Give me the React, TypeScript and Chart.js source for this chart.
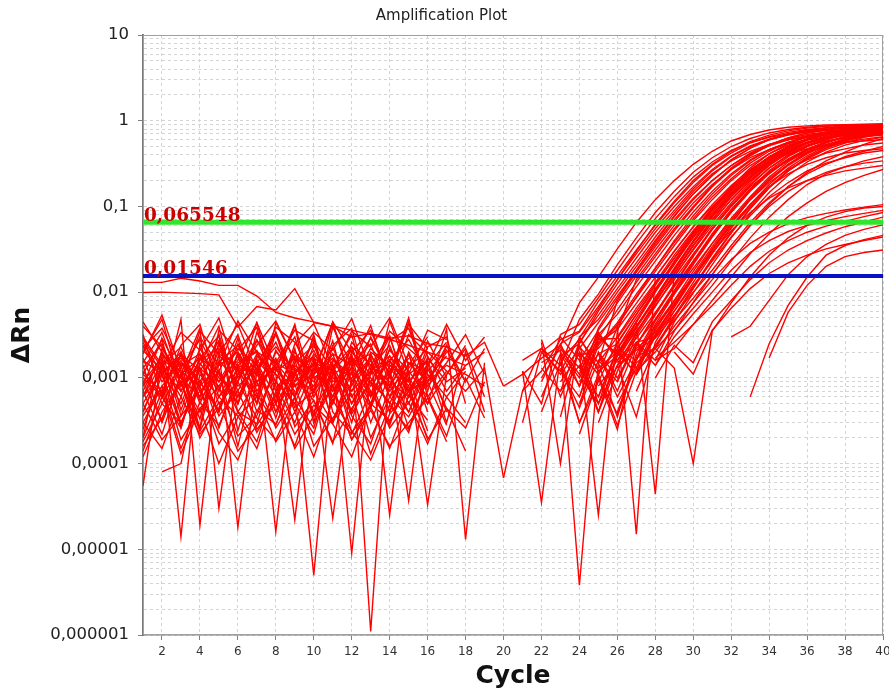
import React, { useEffect, useRef } from "react";
import { Chart, registerables } from "chart.js";

Chart.register(...registerables);

// ---------- axes ----------
const cycles = [1, 2, 3, 4, 5, 6, 7, 8, 9, 10, 11, 12, 13, 14, 15, 16, 17, 18, 19, 20,
  21, 22, 23, 24, 25, 26, 27, 28, 29, 30, 31, 32, 33, 34, 35, 36, 37, 38, 39, 40];
const xTickValues = [2, 4, 6, 8, 10, 12, 14, 16, 18, 20, 22, 24, 26, 28, 30, 32, 34, 36, 38, 40];
const yMajorValues = [1e-6, 1e-5, 1e-4, 1e-3, 1e-2, 1e-1, 1, 10];
const yTickLabels = ["0,000001", "0,00001", "0,0001", "0,001", "0,01", "0,1", "1", "10"];

// ---------- thresholds ----------
const thresholdValues = [0.065548, 0.01546];
const thresholdLabels = ["0,065548", "0,01546"];
const thresholdColors = ["#2ee62e", "#0a10c4"];
const thresholdWidths = [5, 4];

// ---------- baseline noise traces (start at cycle 1) ----------
const noiseTraces: (number | null)[][] = [
  [1.3e-2, 1.3e-2, 1.45e-2, 1.35e-2, 1.2e-2, 1.2e-2, 9e-3, 5.8e-3, 5e-3, 4.5e-3, 4e-3, 3.6e-3, 3.2e-3, 2.8e-3, 2.4e-3, 2e-3, 1.7e-3, 1.4e-3],
  [9.9e-3, 1e-2, 9.8e-3, 9.6e-3, 9.3e-3, 3.9e-3, 6.8e-3, 6.2e-3, 1.1e-2, 4.4e-3, 4e-3, 3e-3, 3.3e-3, 2.9e-3, 3.1e-3, 2.5e-3, 2.3e-3, 1.8e-3, 2.6e-3, 8e-4],
  [1.9e-3, 5.4e-3, 1.2e-3, 8e-4, 3.2e-3, 6e-4, 1.5e-3, 4e-4, 1.1e-3, 2.1e-3, 7e-4, 1.3e-3, 5e-4, 2.2e-3, 9e-4, 1.6e-3],
  [5.5e-5, 1.8e-3, 1.4e-5, 2.5e-3, 6e-4, 1.1e-3, 2.8e-3, 9e-4, 5e-4, 1.7e-3, 1.2e-3, 4e-4, 1.9e-3, 7e-4, 1.4e-3],
  [1.2e-3, 6e-4, 4.8e-3, 1.9e-5, 1.6e-3, 9e-4, 4.4e-3, 1.3e-3, 6e-4, 2.4e-3, 8e-4, 1.8e-3, 3e-4, 1.1e-3, 4.5e-3, 6e-4, 1.2e-3],
  [8e-4, 2.9e-3, 1.1e-3, 3.8e-3, 3e-5, 1.4e-3, 6e-4, 3.4e-3, 1e-3, 7e-4, 4.4e-3, 9e-4, 1.6e-3, 4e-4, 1.3e-3, 2.2e-3],
  [2.4e-3, 9e-4, 1.6e-3, 6e-4, 2.1e-3, 1.8e-5, 1.2e-3, 2.6e-3, 8e-4, 1.5e-3, 5e-4, 2e-3, 1.1e-3, 3e-3, 7e-4, 1.7e-3, 9e-4, 1.3e-3],
  [4e-4, 1.3e-3, 7e-4, 1.9e-3, 1.1e-3, 5e-4, 1.7e-3, 1.6e-5, 1.4e-3, 9e-4, 2.3e-3, 6e-4, 1.2e-3, 8e-4, 1.9e-3, 4e-4],
  [1.5e-3, 3.4e-3, 8e-4, 1.2e-3, 2.7e-3, 7e-4, 1.9e-3, 1.1e-3, 2.2e-5, 1.6e-3, 3e-4, 1.4e-3, 2.5e-3, 6e-4, 1.1e-3],
  [6e-4, 1.1e-3, 2e-3, 5e-4, 1.5e-3, 2.4e-3, 9e-4, 1.3e-3, 7e-4, 5e-6, 1.2e-3, 2.1e-3, 8e-4, 1.6e-3, 5e-4, 1.4e-3, 2.6e-3],
  [3e-3, 1.4e-3, 6e-4, 2.2e-3, 9e-4, 1.6e-3, 4.4e-3, 7e-4, 1.8e-3, 1.1e-3, 2.3e-5, 1e-3, 1.7e-3, 4e-4, 2e-3, 8e-4, 1.5e-3, 3.2e-3, 1.1e-3],
  [1.1e-3, 7e-4, 1.9e-3, 1.2e-3, 4e-4, 2e-3, 8e-4, 1.4e-3, 3e-3, 6e-4, 1.5e-3, 9e-6, 1.3e-3, 2.4e-3, 7e-4, 1.2e-3],
  [2e-4, 2.2e-3, 1e-3, 6e-4, 1.8e-3, 1.3e-3, 5e-4, 2.1e-3, 9e-4, 1.4e-3, 6e-4, 1.9e-3, 1.1e-6, 1.6e-3, 8e-4, 2.7e-3, 1e-3],
  [9e-4, 1.7e-3, 2.6e-4, 1.5e-3, 7e-4, 2.5e-3, 1.1e-3, 3.4e-3, 6e-4, 1.9e-3, 1e-3, 7e-4, 1.8e-3, 2.5e-5, 1.5e-3, 9e-4, 2e-3],
  [1.7e-3, 5e-4, 1.3e-3, 2.8e-3, 1e-3, 6e-4, 1.6e-3, 9e-4, 4.1e-3, 7e-4, 1.3e-3, 2.3e-3, 6e-4, 1.2e-3, 3.7e-5, 1.8e-3, 7e-4, 1.4e-3, 2e-3],
  [7e-4, 1.9e-3, 1e-3, 4e-4, 1.2e-3, 3.2e-3, 7e-4, 1.5e-3, 1.1e-3, 2.6e-3, 5e-4, 1.6e-3, 9e-4, 2.1e-3, 1.2e-3, 3.3e-5, 1.1e-3, 2.4e-3],
  [1.3e-3, 2.5e-3, 7e-4, 1.6e-3, 2.2e-3, 8e-4, 1.3e-3, 3.4e-4, 1.7e-3, 1.2e-3, 4.4e-3, 8e-4, 3e-3, 1.1e-3, 5e-3, 7e-4, 3.7e-3, 1.3e-5, 1.5e-3],
  [3e-4, 8e-4, 1.5e-3, 9e-4, 2.4e-3, 1.2e-3, 6e-4, 2e-3, 1.3e-3, 8e-4, 1.9e-3, 5e-4, 1.4e-3, 9e-4, 6e-4, 2e-3, 1.2e-3, 7e-4, 1.3e-3, 6.8e-5],
  [2.1e-3, 1.2e-3, 5e-4, 1.7e-3, 9e-4, 2.2e-3, 1.4e-3, 4e-4, 1.5e-3, 2.4e-3, 9e-4, 1.3e-3, 2.9e-3, 1.1e-3, 4e-4, 1.2e-3, 2.1e-3, 9e-4],
  [null, 8e-5, 1e-4, 1.1e-3, 6e-4, 1.5e-3, 2e-3, 7e-4, 1.2e-3, 1.7e-3, 6e-4, 2.3e-3, 1.4e-3, 8e-4, 1.7e-3],
  [4e-4, 1.4e-3, 2.3e-3, 7e-4, 1.2e-3, 5e-4, 1.8e-3, 1.1e-3, 6e-4, 1.5e-3, 1.2e-3, 3e-4, 2e-3, 1.4e-3, 9e-4, 1.6e-3, 4e-4],
  [1e-3, 6e-4, 1.4e-3, 1.9e-3, 5e-4, 9e-4, 2.7e-3, 1.5e-3, 8e-4, 1.1e-3, 1.9e-3, 1.4e-3, 6e-4, 1.8e-3, 1e-3, 5e-4, 1.1e-3, 2.2e-3, 6e-4],
  [2.6e-3, 1.1e-3, 1.8e-3, 8e-4, 1.4e-3, 2e-3, 9e-4, 1.7e-3, 4e-4, 1.3e-3, 7e-4, 1.7e-3, 1e-3, 5e-4, 1.5e-3, 1.2e-3],
  [6e-4, 2e-3, 9e-4, 1.3e-3, 2.6e-4, 1.1e-3, 1.5e-3, 6e-4, 2e-3, 1e-3, 1.4e-3, 5e-4, 1.1e-3, 1.6e-3, 2.8e-3, 1.1e-3, 6e-4, 1.2e-3],
  [1.4e-3, 3e-4, 1.1e-3, 1.7e-3, 1.2e-3, 1.6e-4, 1.3e-3, 2.3e-3, 1.2e-3, 4e-4, 1.1e-3, 1.5e-3, 1.9e-3, 6e-4, 1.9e-3, 5e-4, 2.4e-3, 9e-4, 2.2e-3],
  [8e-4, 1.6e-3, 1.2e-3, 2.5e-4, 1.9e-3, 1.4e-3, 1.1e-3, 5e-4, 1.2e-3, 1.8e-3, 3e-4, 9e-4, 2.2e-3, 1.3e-3, 7e-4, 1e-3, 1.8e-3],
  [1.6e-3, 1.1e-3, 2.8e-4, 1.3e-3, 8e-4, 1.8e-3, 4e-4, 1.2e-3, 1.7e-3, 7e-4, 1.6e-3, 1.1e-3, 4.5e-4, 1.4e-3, 1.1e-3, 1.6e-3],
  [5e-4, 1.2e-3, 1.7e-3, 9e-4, 4e-4, 1.4e-3, 2.1e-3, 8e-4, 3e-4, 1.1e-3, 1.7e-3, 7e-4, 1.2e-3, 1.8e-3, 7e-4, 9e-4, 1.4e-3, 1.1e-3, 8e-4],
  [3e-4, 1.5e-4, 6e-4, 2.2e-4, 4.5e-4, 1.3e-3, 2.5e-4, 5e-4, 1.6e-4, 7e-4, 3e-4, 1.2e-3, 2e-4, 6e-4, 3.5e-4, 9e-4, 2.8e-4],
  [1.8e-4, 5e-4, 3e-4, 8e-4, 1.7e-4, 4e-4, 9e-4, 2.6e-4, 6e-4, 3.2e-3, 4e-4, 2.2e-4, 7e-4, 3e-4, 1e-3, 2.4e-4],
  [4.5e-3, 2e-3, 3.6e-4, 1.4e-3, 4e-3, 5e-4, 3.4e-3, 1.2e-3, 4.2e-3, 3e-4, 2.4e-3, 3.8e-3, 6e-4, 4.6e-3, 1.1e-3, 3.6e-3, 2.8e-3],
  [2.5e-4, 1.1e-3, 1.9e-4, 4.4e-4, 8e-4, 2.1e-4, 3.6e-4, 1.4e-3, 2.7e-4, 5.5e-4, 1.8e-4, 4.4e-4, 9e-4, 2.6e-4, 5.2e-4, 1.7e-4, 6e-4, 3e-4],
  [3.2e-3, 6e-4, 2.4e-3, 4.2e-3, 7e-4, 2.9e-3, 5e-4, 4.4e-3, 1.6e-3, 3.6e-4, 3.9e-3, 1.4e-3, 4.1e-3, 8e-4, 3.2e-3, 1.9e-3],
  [7e-4, 2.2e-4, 1.1e-3, 3.3e-4, 2.6e-3, 4e-4, 1.8e-4, 9e-4, 5e-4, 2.2e-4, 1.3e-3, 3.6e-4, 1.7e-4, 8e-4, 4e-4, 1.5e-3, 3e-4, 2e-3, 4e-4],
  [1.4e-4, 6e-4, 2.6e-4, 1.3e-3, 3.6e-4, 7e-4, 2.3e-4, 5.6e-4, 2.2e-3, 3e-4, 8e-4, 1.9e-4, 5e-4, 1.2e-3, 2.6e-4, 6.6e-4],
  [2.2e-3, 3.8e-3, 1.4e-3, 2.6e-4, 3.6e-3, 2.1e-3, 3.9e-3, 5e-4, 2.5e-3, 4.3e-3, 1.3e-3, 3.2e-3, 4.5e-4, 2.7e-3, 3.8e-3, 9e-4, 2.4e-3],
  [5e-4, 1.9e-4, 3.6e-4, 7e-4, 2.3e-4, 1.1e-4, 4.2e-4, 2.9e-4, 8.5e-4, 1.6e-4, 3.4e-4, 6.5e-4, 1.3e-4, 4.8e-4, 2.5e-4, 1.1e-3],
  [1.1e-3, 2.8e-3, 4.2e-4, 1.7e-3, 3.1e-3, 2.4e-4, 1.5e-3, 3.2e-3, 9e-4, 2.9e-3, 5.2e-4, 2.6e-3, 1.4e-3, 3.1e-3, 6e-4, 2.3e-3, 3e-3, 5e-4],
  [3.6e-4, 8e-4, 1.5e-4, 5.2e-4, 2.8e-4, 9e-4, 3.4e-4, 1.9e-4, 5.8e-4, 2.6e-4, 1.4e-3, 2.3e-4, 4.6e-4, 1.5e-4, 6.2e-4, 3.2e-4],
  [2.8e-3, 1.3e-3, 3.4e-3, 2.1e-3, 5e-3, 1e-3, 2.4e-3, 4.6e-3, 1.6e-3, 3.4e-3, 2.1e-3, 4.9e-3, 1.2e-3, 3.5e-3, 2.2e-3, 1.4e-3, 4.2e-3, 1.6e-3, 3e-3],
  [9e-4, 3.2e-4, 2e-3, 5.5e-4, 1.2e-3, 4e-4, 2.9e-4, 1.6e-3, 4.5e-4, 7e-4, 2.7e-3, 3.8e-4, 9e-4, 5.2e-4, 2.3e-4, 1.3e-3, 4.4e-4, 1.4e-4],
  [1.2e-4, 4e-4, 9e-4, 2.4e-4, 6e-4, 3.6e-4, 1.5e-4, 7e-4, 2.2e-4, 4.8e-4, 2.9e-4, 1.2e-4, 5e-4, 3.2e-4, 8e-4, 1.9e-4, 4.4e-4, 2.6e-4, 9e-4],
  [2e-3, 4.8e-3, 8e-4, 3.5e-3, 1.9e-3, 4.2e-3, 1.2e-3, 3.9e-3, 2.6e-3, 1.1e-3, 4.5e-3, 2e-3, 3.6e-3, 1e-3, 4.2e-3, 2.2e-3],
  [6e-4, 1.5e-3, 3e-4, 9e-4, 4.2e-4, 1.9e-3, 6.5e-4, 2.8e-4, 1.1e-3, 5.4e-4, 1.7e-4, 1.8e-3, 7e-4, 2.8e-4, 1.2e-3, 6e-4, 2.1e-4, 1e-3, 3.4e-4],
  [4e-3, 2.3e-3, 1e-3, 3e-3, 1.4e-3, 4.6e-3, 2e-3, 1.5e-3, 3.6e-3, 2.7e-3, 1.2e-3, 3.5e-3, 2.3e-3, 5e-3, 1.4e-3, 3e-3],
  [2e-4, 7e-4, 1.3e-4, 4.4e-4, 1e-4, 3.5e-4, 6e-4, 1.8e-4, 4e-4, 1.2e-4, 5.5e-4, 2.4e-4, 1.1e-4, 3.8e-4, 7e-4, 2e-4],
  [1.6e-4, 3.4e-4, 9e-4, 2e-4, 5.2e-4, 1.4e-4, 2.8e-4, 6.4e-4, 1.5e-4, 3.6e-4, 8e-4, 1.9e-4, 4.2e-4, 1.6e-4, 3e-4, 5.8e-4, 1.8e-4],
];

// ---------- amplification traces ----------
const ampStartCycles = [
  20, 21, 20, 21, 22, 22, 23, 22, 23, 24,
  23, 24, 24, 24, 25, 25, 25, 26, 26, 27,
  22, 21, 23, 24, 24, 22, 24, 24, 22, 21,
  26, 28, 26,
  27, 27, 28, 28, 29, 34, 33, 32, 28,
  22, 22, 23, 23, 24, 24, 23, 25, 24, 25,
  22, 26, 23, 21, 25, 26, 24, 27,
  24, 25, 23, 26, 24, 25, 27, 28, 23, 26,
];
const ampTraces: number[][] = [
  [8e-4, 1.1e-3, 1.7e-3, 2.4e-3, 7.5e-3, 1.5e-2, 3.2e-2, 6.5e-2, 0.12, 0.2, 0.31, 0.44, 0.58, 0.69, 0.78, 0.84, 0.87, 0.89, 0.9, 0.91, 0.92],
  [7e-4, 2.2e-3, 1.4e-3, 4.8e-3, 9.5e-3, 2.1e-2, 4.3e-2, 8.5e-2, 0.15, 0.25, 0.37, 0.5, 0.62, 0.72, 0.79, 0.84, 0.87, 0.88, 0.89, 0.9],
  [6.8e-5, 7e-4, 1.2e-3, 2.8e-3, 3.5e-3, 7.8e-3, 1.55e-2, 3.1e-2, 6e-2, 0.11, 0.19, 0.3, 0.42, 0.55, 0.65, 0.73, 0.79, 0.83, 0.85, 0.87, 0.88],
  [1.2e-3, 3.5e-5, 1.8e-3, 2.5e-3, 6e-3, 1.25e-2, 2.5e-2, 5e-2, 9e-2, 0.16, 0.26, 0.38, 0.5, 0.6, 0.68, 0.74, 0.79, 0.82, 0.84, 0.85],
  [2.6e-3, 1e-4, 3e-3, 4.8e-3, 1e-2, 2e-2, 4e-2, 7.8e-2, 0.14, 0.23, 0.35, 0.48, 0.6, 0.7, 0.77, 0.82, 0.86, 0.88, 0.9],
  [1.5e-3, 2.1e-3, 3.8e-6, 1.5e-3, 8e-3, 1.7e-2, 3.4e-2, 6.6e-2, 0.12, 0.2, 0.3, 0.42, 0.53, 0.62, 0.69, 0.74, 0.78, 0.8, 0.82],
  [9e-4, 1.9e-3, 2.5e-5, 3.5e-3, 1.4e-2, 2.8e-2, 5.5e-2, 0.1, 0.175, 0.28, 0.4, 0.52, 0.63, 0.72, 0.78, 0.83, 0.85, 0.87],
  [1e-3, 2.3e-3, 1.3e-3, 3.2e-3, 5.5e-3, 1.15e-2, 2.3e-2, 4.6e-2, 8.6e-2, 0.15, 0.24, 0.35, 0.46, 0.56, 0.64, 0.7, 0.75, 0.78, 0.8],
  [1.2e-3, 6e-4, 2.4e-3, 4.4e-3, 9.5e-3, 1.9e-2, 3.8e-2, 7.2e-2, 0.13, 0.21, 0.32, 0.44, 0.56, 0.66, 0.74, 0.8, 0.85, 0.88],
  [2e-3, 1.1e-3, 3.9e-3, 1.5e-5, 1.5e-2, 3e-2, 5.8e-2, 0.105, 0.175, 0.27, 0.37, 0.47, 0.56, 0.63, 0.68, 0.72, 0.75],
  [1.6e-3, 2.8e-3, 1.5e-3, 3e-3, 6.5e-3, 1.3e-2, 2.7e-2, 5.2e-2, 9.6e-2, 0.165, 0.26, 0.38, 0.5, 0.61, 0.7, 0.78, 0.84, 0.9],
  [9e-4, 1.9e-3, 2.5e-3, 5.5e-3, 1.1e-2, 2.2e-2, 4.3e-2, 8e-2, 0.14, 0.22, 0.32, 0.42, 0.51, 0.58, 0.63, 0.67, 0.7],
  [1.4e-3, 6e-4, 2.2e-3, 4.4e-3, 4.4e-5, 1.7e-2, 3.5e-2, 6.6e-2, 0.12, 0.2, 0.3, 0.42, 0.54, 0.64, 0.72, 0.8, 0.86],
  [3e-3, 1.2e-3, 1.8e-3, 3.5e-3, 7e-3, 1.4e-2, 2.8e-2, 5.4e-2, 0.1, 0.17, 0.25, 0.34, 0.43, 0.5, 0.56, 0.61, 0.65],
  [8e-4, 1.6e-3, 2.9e-3, 5.8e-3, 1.15e-2, 2.3e-2, 4.5e-2, 8.5e-2, 0.15, 0.24, 0.35, 0.46, 0.56, 0.65, 0.73, 0.8],
  [2e-3, 1e-3, 2.5e-3, 4.8e-3, 9.5e-3, 1.9e-2, 3.7e-2, 7e-2, 0.12, 0.19, 0.27, 0.35, 0.42, 0.47, 0.52, 0.55],
  [1.1e-3, 2.4e-3, 1.3e-3, 3.8e-3, 7.5e-3, 1.45e-2, 2.9e-2, 5.6e-2, 0.1, 0.17, 0.26, 0.36, 0.46, 0.55, 0.64, 0.72],
  [1.5e-3, 2.6e-3, 3e-3, 6e-3, 1.2e-2, 2.3e-2, 4.4e-2, 7.8e-2, 0.13, 0.19, 0.26, 0.32, 0.37, 0.42, 0.45],
  [2e-3, 1.1e-3, 2.4e-3, 4.7e-3, 8.5e-3, 1.6e-2, 3.2e-2, 6e-2, 0.105, 0.17, 0.25, 0.34, 0.43, 0.53, 0.62],
  [1.8e-3, 2.2e-3, 3.6e-3, 6.5e-3, 1.2e-2, 2.3e-2, 4.3e-2, 7.5e-2, 0.12, 0.18, 0.24, 0.29, 0.34, 0.38],
  [9e-4, 2.5e-3, 3.4e-3, 6.8e-3, 1.4e-2, 2.8e-2, 5.5e-2, 0.1, 0.17, 0.27, 0.39, 0.51, 0.61, 0.69, 0.75, 0.79, 0.82, 0.84, 0.86],
  [1.6e-3, 2.2e-3, 1.1e-3, 2.2e-3, 4.4e-3, 9e-3, 1.8e-2, 3.6e-2, 7e-2, 0.125, 0.2, 0.3, 0.41, 0.51, 0.6, 0.67, 0.72, 0.76, 0.78, 0.8],
  [2e-3, 1e-3, 2.9e-3, 6.2e-3, 1.3e-2, 2.6e-2, 5.2e-2, 9.6e-2, 0.17, 0.27, 0.39, 0.52, 0.63, 0.72, 0.79, 0.84, 0.88, 0.9],
  [1.8e-3, 2.2e-3, 4.2e-3, 8.6e-3, 1.75e-2, 3.5e-2, 6.8e-2, 0.12, 0.2, 0.3, 0.41, 0.52, 0.61, 0.69, 0.75, 0.8, 0.83],
  [6e-4, 2.8e-3, 2.9e-3, 6e-3, 1.25e-2, 2.5e-2, 4.9e-2, 9e-2, 0.155, 0.24, 0.34, 0.45, 0.55, 0.63, 0.7, 0.75, 0.78],
  [2e-3, 3e-3, 1.6e-3, 3.6e-3, 7.5e-3, 1.55e-2, 3.1e-2, 6e-2, 0.11, 0.18, 0.27, 0.37, 0.46, 0.54, 0.6, 0.64, 0.67, 0.69, 0.7],
  [2.3e-3, 1.3e-3, 2e-3, 4e-3, 8e-3, 1.55e-2, 3.1e-2, 6e-2, 0.11, 0.19, 0.3, 0.43, 0.56, 0.67, 0.76, 0.84, 0.9],
  [1.2e-3, 2.5e-3, 3.7e-3, 7.4e-3, 1.5e-2, 3e-2, 5.8e-2, 0.1, 0.165, 0.25, 0.33, 0.41, 0.47, 0.52, 0.56, 0.58, 0.6],
  [1.3e-3, 7e-4, 2.6e-3, 5.4e-3, 1.1e-2, 2.2e-2, 4.4e-2, 8.4e-2, 0.15, 0.24, 0.34, 0.44, 0.53, 0.6, 0.65, 0.69, 0.72, 0.74, 0.75],
  [1.2e-3, 5e-4, 3.2e-3, 4.2e-3, 8.6e-3, 1.8e-2, 3.7e-2, 7.2e-2, 0.13, 0.22, 0.33, 0.45, 0.56, 0.64, 0.7, 0.74, 0.77, 0.78, 0.79, 0.8],
  [2.2e-3, 1.6e-3, 4e-3, 8e-3, 1.55e-2, 2.9e-2, 5.2e-2, 8.5e-2, 0.125, 0.165, 0.2, 0.23, 0.26, 0.28, 0.3],
  [1.6e-3, 2.2e-3, 4.2e-3, 8e-3, 1.5e-2, 2.8e-2, 4.8e-2, 7.6e-2, 0.11, 0.15, 0.19, 0.23, 0.27],
  [1.4e-3, 2.1e-3, 2.9e-3, 5.4e-3, 1e-2, 1.8e-2, 3.5e-2, 6.5e-2, 0.11, 0.17, 0.24, 0.31, 0.38, 0.44, 0.5],
  [1.2e-3, 2e-3, 4e-3, 7.5e-3, 1.4e-2, 2.4e-2, 3.7e-2, 5e-2, 6.3e-2, 7.4e-2, 8.3e-2, 9.1e-2, 9.8e-2, 0.105],
  [2.5e-3, 1.4e-3, 3e-3, 5.6e-3, 1e-2, 1.8e-2, 2.9e-2, 4e-2, 5.1e-2, 6e-2, 6.8e-2, 7.6e-2, 8.3e-2, 9e-2],
  [1.7e-3, 2.6e-3, 4.2e-3, 7e-3, 1.2e-2, 2e-2, 3e-2, 4e-2, 5e-2, 5.9e-2, 6.7e-2, 7.6e-2, 8.5e-2],
  [1e-3, 2.4e-3, 1.5e-3, 4.5e-3, 8e-3, 1.4e-2, 2.2e-2, 3.1e-2, 4e-2, 4.9e-2, 5.8e-2, 6.6e-2, 7.5e-2],
  [2e-3, 1.1e-3, 3.6e-3, 6.5e-3, 1.1e-2, 1.65e-2, 2.2e-2, 2.7e-2, 3.2e-2, 3.6e-2, 4e-2, 4.4e-2],
  [1.7e-3, 5.8e-3, 1.2e-2, 2e-2, 2.6e-2, 2.9e-2, 3.1e-2],
  [6e-4, 2.5e-3, 7e-3, 1.5e-2, 2.7e-2, 3.5e-2, 4.1e-2, 4.6e-2],
  [3e-3, 4e-3, 8e-3, 1.6e-2, 2.6e-2, 3.6e-2, 4.6e-2, 5.4e-2, 6.1e-2],
  [2.2e-3, 1.3e-3, 1e-4, 3.5e-3, 7.5e-3, 1.5e-2, 2.7e-2, 4.3e-2, 6e-2, 7.5e-2, 8.7e-2, 9.6e-2, 0.1],
  [4e-4, 1.5e-3, 3e-4, 9e-4, 2.6e-3, 5.5e-3, 1.2e-2, 2.5e-2, 5e-2, 9.5e-2, 0.17, 0.28, 0.41, 0.54, 0.65, 0.73, 0.79, 0.83, 0.86],
  [2.8e-3, 6e-4, 2e-3, 4e-4, 1.8e-3, 4.4e-3, 1e-2, 2.1e-2, 4.4e-2, 8.5e-2, 0.15, 0.25, 0.37, 0.5, 0.61, 0.7, 0.76, 0.8, 0.83],
  [3.5e-4, 2.4e-3, 5e-4, 1.4e-3, 3.4e-3, 7.6e-3, 1.65e-2, 3.5e-2, 7e-2, 0.13, 0.22, 0.34, 0.47, 0.59, 0.69, 0.77, 0.83, 0.87],
  [1.8e-3, 3e-4, 1.1e-3, 2.8e-4, 1.2e-3, 3e-3, 6.6e-3, 1.45e-2, 3.1e-2, 6.3e-2, 0.12, 0.2, 0.31, 0.43, 0.55, 0.65, 0.72, 0.77],
  [5e-4, 2e-3, 7e-4, 2.4e-3, 5.4e-3, 1.2e-2, 2.6e-2, 5.4e-2, 0.1, 0.175, 0.28, 0.4, 0.52, 0.62, 0.7, 0.76, 0.8],
  [2.2e-4, 1e-3, 3.8e-4, 1.5e-3, 2.2e-3, 5e-3, 1.1e-2, 2.4e-2, 4.9e-2, 9.4e-2, 0.165, 0.26, 0.37, 0.48, 0.58, 0.66, 0.72],
  [1.3e-3, 4.5e-4, 3e-3, 1.9e-3, 4.6e-3, 1.05e-2, 2.3e-2, 4.8e-2, 9.2e-2, 0.16, 0.26, 0.38, 0.5, 0.61, 0.7, 0.77, 0.82, 0.85],
  [3e-4, 1.2e-3, 3.3e-3, 7.5e-3, 1.65e-2, 3.5e-2, 7e-2, 0.13, 0.21, 0.32, 0.44, 0.55, 0.64, 0.71, 0.76, 0.8],
  [1.6e-3, 4e-4, 1.4e-3, 3.5e-4, 2.6e-3, 6e-3, 1.3e-2, 2.8e-2, 5.7e-2, 0.105, 0.18, 0.28, 0.39, 0.5, 0.6, 0.68, 0.74],
  [1.9e-3, 6e-4, 1.6e-3, 4.2e-3, 9.5e-3, 2.1e-2, 4.4e-2, 8.6e-2, 0.155, 0.25, 0.36, 0.47, 0.57, 0.65, 0.71, 0.75],
  [6e-4, 1.9e-3, 8e-4, 3.8e-3, 8.4e-3, 1.8e-2, 3.8e-2, 7.6e-2, 0.14, 0.23, 0.35, 0.48, 0.6, 0.7, 0.77, 0.82, 0.85, 0.87, 0.88],
  [4e-4, 1.7e-3, 4.6e-3, 1e-2, 2.2e-2, 4.6e-2, 8.8e-2, 0.16, 0.26, 0.38, 0.5, 0.61, 0.7, 0.77, 0.82],
  [2.5e-3, 8e-4, 2.6e-3, 4e-3, 8.8e-3, 1.9e-2, 4e-2, 7.8e-2, 0.14, 0.23, 0.34, 0.46, 0.56, 0.64, 0.7, 0.74, 0.77, 0.79],
  [3e-4, 2e-3, 1.2e-3, 2.9e-3, 6.4e-3, 1.4e-2, 3e-2, 6.2e-2, 0.115, 0.2, 0.31, 0.44, 0.57, 0.68, 0.76, 0.82, 0.86, 0.88, 0.89, 0.9],
  [1e-3, 2.5e-4, 2.4e-3, 5.6e-3, 1.25e-2, 2.7e-2, 5.6e-2, 0.105, 0.18, 0.28, 0.39, 0.5, 0.6, 0.68, 0.74, 0.78],
  [1.3e-3, 2.2e-3, 3.4e-3, 7e-3, 1.5e-2, 3.2e-2, 6.4e-2, 0.12, 0.2, 0.3, 0.41, 0.52, 0.62, 0.7, 0.76],
  [8e-4, 3.2e-3, 1.8e-3, 4e-3, 8.5e-3, 1.85e-2, 3.9e-2, 7.6e-2, 0.14, 0.23, 0.35, 0.48, 0.6, 0.7, 0.78, 0.84, 0.88],
  [7e-4, 2.3e-3, 5.3e-3, 1.15e-2, 2.5e-2, 5e-2, 9.5e-2, 0.165, 0.26, 0.37, 0.48, 0.58, 0.66, 0.72],
  [4.5e-4, 1.6e-3, 9e-4, 3.1e-3, 6.8e-3, 1.5e-2, 3.2e-2, 6.5e-2, 0.12, 0.2, 0.31, 0.43, 0.55, 0.65, 0.73, 0.79, 0.83],
  [6e-4, 2.1e-3, 1.1e-3, 3.6e-3, 8e-3, 1.75e-2, 3.7e-2, 7.3e-2, 0.13, 0.22, 0.33, 0.45, 0.56, 0.65, 0.72, 0.77],
  [7e-4, 1.4e-3, 4e-4, 1.9e-3, 3.9e-3, 8.7e-3, 1.9e-2, 4e-2, 8e-2, 0.145, 0.24, 0.36, 0.49, 0.61, 0.71, 0.79, 0.85, 0.88],
  [5e-4, 1.3e-3, 3.2e-3, 7.2e-3, 1.6e-2, 3.4e-2, 6.8e-2, 0.125, 0.21, 0.31, 0.42, 0.52, 0.6, 0.66, 0.7],
  [1.1e-3, 5e-4, 2.2e-3, 5e-3, 1.05e-2, 2.2e-2, 4.6e-2, 9e-2, 0.16, 0.26, 0.38, 0.5, 0.61, 0.7, 0.77, 0.82, 0.86],
  [1.5e-3, 3.5e-4, 1.9e-3, 4.8e-3, 1.05e-2, 2.3e-2, 4.8e-2, 9.2e-2, 0.16, 0.25, 0.35, 0.45, 0.53, 0.6, 0.65, 0.68],
  [1.1e-3, 3.2e-3, 7e-3, 1.5e-2, 3.1e-2, 6e-2, 0.105, 0.17, 0.24, 0.31, 0.37, 0.42, 0.45, 0.47],
  [1.4e-3, 3.5e-3, 7.6e-3, 1.6e-2, 3.2e-2, 6e-2, 0.1, 0.15, 0.2, 0.25, 0.29, 0.32, 0.34],
  [2.2e-3, 1.1e-3, 3.4e-3, 1.6e-3, 3.8e-3, 8.2e-3, 1.8e-2, 3.8e-2, 7.5e-2, 0.135, 0.22, 0.33, 0.45, 0.56, 0.65, 0.72, 0.77, 0.8],
  [9e-4, 2.6e-3, 1.6e-3, 4.5e-3, 9.8e-3, 2.1e-2, 4.3e-2, 8.2e-2, 0.145, 0.23, 0.33, 0.43, 0.52, 0.59, 0.64],
];

const CURVE_COLOR = "#ff0000";
const CURVE_WIDTH = 1.4;

function toPoints(startCycle: number, values: (number | null)[]) {
  return values.map((v, i) => ({ x: cycles[startCycle - 1 + i], y: v }));
}

const framePlugin = {
  id: "plotFrame",
  beforeDatasetsDraw(chart: any) {
    const { ctx, chartArea: a } = chart;
    ctx.save();
    ctx.strokeStyle = "#a0a0a0";
    ctx.lineWidth = 1;
    ctx.strokeRect(a.left + 0.5, a.top + 0.5, a.right - a.left - 1, a.bottom - a.top - 1);
    ctx.restore();
  },
};

const thresholdLabelPlugin = {
  id: "thresholdLabels",
  afterDatasetsDraw(chart: any) {
    const { ctx, chartArea } = chart;
    const yScale = chart.scales.y;
    ctx.save();
    ctx.font = 'bold 18.5px "DejaVu Serif", serif';
    ctx.fillStyle = "#cc0000";
    ctx.textAlign = "left";
    ctx.textBaseline = "alphabetic";
    thresholdValues.forEach((v, i) => {
      const py = yScale.getPixelForValue(v);
      ctx.fillText(thresholdLabels[i], chartArea.left + 1, py - 1.5);
    });
    ctx.restore();
  },
};

export default function App() {
  const canvasRef = useRef<HTMLCanvasElement | null>(null);

  useEffect(() => {
    document.body.style.margin = "0";
    const canvas = canvasRef.current;
    if (!canvas) return;

    const datasets: any[] = [];
    thresholdValues.forEach((v, i) => {
      datasets.push({
        label: thresholdLabels[i],
        data: [{ x: cycles[0], y: v }, { x: cycles[cycles.length - 1], y: v }],
        borderColor: thresholdColors[i],
        borderWidth: thresholdWidths[i],
        pointRadius: 0,
        order: -1,
      });
    });
    noiseTraces.forEach((vals, i) => {
      datasets.push({
        label: "n" + i,
        data: toPoints(1, vals),
        borderColor: CURVE_COLOR,
        borderWidth: CURVE_WIDTH,
        pointRadius: 0,
        spanGaps: false,
        order: 1,
      });
    });
    ampTraces.forEach((vals, i) => {
      datasets.push({
        label: "a" + i,
        data: toPoints(ampStartCycles[i], vals),
        borderColor: CURVE_COLOR,
        borderWidth: CURVE_WIDTH,
        pointRadius: 0,
        spanGaps: false,
        order: 1,
      });
    });

    const gridColor = "#d4d4d4";

    const chart = new Chart(canvas, {
      type: "line",
      data: { datasets },
      plugins: [framePlugin, thresholdLabelPlugin],
      options: {
        animation: false,
        responsive: false,
        devicePixelRatio: 1,
        events: [],
        layout: { padding: { left: 0, right: 6, top: 0, bottom: 0 } },
        elements: { line: { tension: 0 } },
        plugins: {
          legend: { display: false },
          tooltip: { enabled: false },
          title: {
            display: true,
            text: "Amplification Plot",
            color: "#222",
            font: { family: "'DejaVu Sans', sans-serif", size: 15, weight: "normal" },
            padding: { top: 7, bottom: 10 },
          },
        },
        scales: {
          x: {
            type: "linear",
            min: 1,
            max: 40,
            afterBuildTicks: (scale: any) => {
              scale.ticks = xTickValues.map((v) => ({ value: v }));
            },
            afterFit: (scale: any) => {
              scale.height = 58;
              scale.paddingLeft = 0;
              scale.paddingRight = 6;
            },
            ticks: {
              autoSkip: false,
              maxRotation: 0,
              color: "#333",
              padding: 5,
              font: { family: "'DejaVu Sans', sans-serif", size: 12 },
              callback: (value: any) => String(value),
            },
            grid: {
              color: gridColor,
              lineWidth: 1,
              drawTicks: true,
              tickLength: 5,
              tickColor: "#808080",
            },
            border: { display: true, color: "#808080", width: 1.5, dash: [3, 3] },
            title: {
              display: true,
              text: "Cycle",
              color: "#111",
              font: { family: "'DejaVu Sans', sans-serif", size: 25, weight: "bold" },
              padding: { top: 0, bottom: 2 },
            },
          },
          y: {
            type: "logarithmic",
            min: 1e-6,
            max: 10,
            afterBuildTicks: (scale: any) => {
              const ticks: any[] = [];
              for (let d = 0; d < yMajorValues.length; d++) {
                const base = yMajorValues[d];
                ticks.push({ value: base, major: true });
                if (d < yMajorValues.length - 1) {
                  for (let m = 2; m <= 9; m++) ticks.push({ value: base * m, major: false });
                }
              }
              scale.ticks = ticks;
            },
            afterFit: (scale: any) => {
              scale.width = 143;
              scale.paddingTop = 0;
              scale.paddingBottom = 0;
            },
            ticks: {
              autoSkip: false,
              color: "#222",
              padding: 9,
              font: { family: "'DejaVu Sans', sans-serif", size: 16.5 },
              callback: (value: any) => {
                const lg = Math.log10(value);
                const r = Math.round(lg);
                if (Math.abs(lg - r) < 1e-6) {
                  const idx = yMajorValues.findIndex((m) => Math.abs(Math.log10(m) - r) < 1e-6);
                  return idx >= 0 ? yTickLabels[idx] : "";
                }
                return "";
              },
            },
            grid: {
              color: gridColor,
              lineWidth: 1,
              drawTicks: true,
              tickLength: 5,
              tickColor: (ctx: any) => (ctx.tick && ctx.tick.major ? "#808080" : "rgba(0,0,0,0)"),
            },
            border: { display: true, color: "#7a7a7a", width: 2, dash: [3, 3] },
            title: {
              display: true,
              text: "ΔRn",
              color: "#111",
              font: { family: "'DejaVu Sans', sans-serif", size: 25, weight: "bold" },
              padding: { top: 7, bottom: 0 },
            },
          },
        },
      } as any,
    });

    return () => {
      chart.destroy();
    };
  }, []);

  return (
    <div style={{ width: 889, height: 693, background: "#fff" }}>
      <canvas ref={canvasRef} width={889} height={693} style={{ display: "block", width: 889, height: 693 }} />
    </div>
  );
}
